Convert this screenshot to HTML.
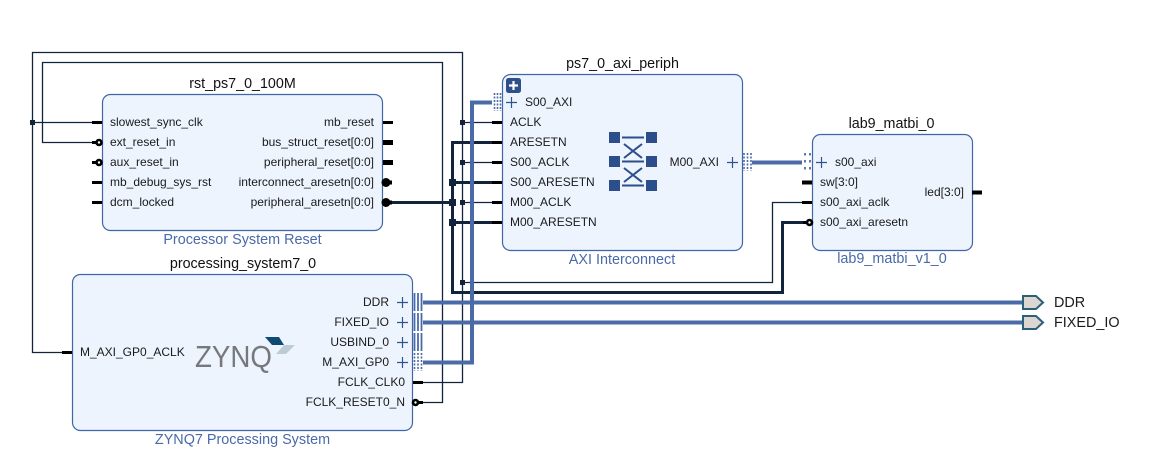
<!DOCTYPE html>
<html><head><meta charset="utf-8"><style>
html,body{margin:0;padding:0;background:#fff;width:1153px;height:467px;overflow:hidden}
svg{display:block}
text{font-family:"Liberation Sans",sans-serif;font-size:12px;fill:#1a1a1a}
.t{font-size:14.3px;text-anchor:middle;fill:#111}
.b{font-size:14.4px;text-anchor:middle;fill:#4a6aa8}
.e{text-anchor:end}
.box{fill:#edf4fe;stroke:#3f66a6;stroke-width:1.2}
.w{fill:none;stroke:#12243c;stroke-width:1.3}
.tw{fill:none;stroke:#12243c;stroke-width:3}
.a{fill:none;stroke:#4a6ba8;stroke-width:4}
.p{stroke:#000;stroke-width:3;fill:none}
.pl{stroke:#2f5590;stroke-width:1.2;fill:none}
.c{fill:#fff;stroke:#000;stroke-width:2.6}
.bar{stroke:#4a6ba8;stroke-width:1.8;fill:none}
.dots{stroke:#4a6ba8;stroke-width:1.6;fill:none;stroke-dasharray:2 1.500}
.s{fill:#2c4f8c}
</style></head><body>
<svg width="1153" height="467" viewBox="0 0 1153 467" xmlns="http://www.w3.org/2000/svg">
<rect width="1153" height="467" fill="#fff"/>
<!-- wires -->
<path class="w" d="M422 382.500H462.500V52.500H32.500V352.500H62"/>
<path class="w" d="M422 402.500H442.500V62.500H42.500V142.500H92"/>
<path class="w" d="M32 122.500H92"/>
<path class="w" d="M462 122.500H492M462 162.500H492M462 202.500H492"/>
<path class="w" d="M462 282.500H772.500V202.500H802"/>
<path class="tw" d="M392 202.500H452.500M452.500 182.500H492M452.500 222.500H492"/>
<path class="tw" d="M492 142.500H452.500V292.500H782.500V222.500H804"/>
<path class="a" d="M423 362.500H472V102.500H492"/>
<path class="a" d="M423 302.500H1022M423 322.500H1022"/>
<!-- junctions -->
<g fill="#12243c">
<rect x="30" y="120" width="5" height="5"/>
<rect x="460" y="120" width="5" height="5"/>
<rect x="460" y="160" width="5" height="5"/>
<rect x="460" y="200" width="5" height="5"/>
<rect x="460" y="280" width="5" height="5"/>
<rect x="449" y="179" width="7" height="7"/>
<rect x="449" y="199" width="7" height="7"/>
<rect x="449" y="219" width="7" height="7"/>
</g>
<!-- blocks -->
<rect class="box" x="102.500" y="94.500" width="280" height="136" rx="8"/>
<rect class="box" x="72.500" y="274.500" width="340" height="156" rx="8"/>
<rect class="box" x="502.500" y="74.500" width="240" height="176" rx="8"/>
<rect class="box" x="812.500" y="134.500" width="160" height="116" rx="8"/>
<!-- titles -->
<text class="t" x="242.500" y="88">rst_ps7_0_100M</text>
<text class="t" x="243" y="268">processing_system7_0</text>
<text class="t" x="622.500" y="68">ps7_0_axi_periph</text>
<text class="t" x="891.500" y="128">lab9_matbi_0</text>
<text class="b" x="242.500" y="244">Processor System Reset</text>
<text class="b" x="242.500" y="444">ZYNQ7 Processing System</text>
<text class="b" x="622" y="264">AXI Interconnect</text>
<text class="b" x="892" y="263">lab9_matbi_v1_0</text>
<!-- rst ports -->
<path class="p" d="M92 122.500H102M92 142.500H97M92 162.500H97M92 182.500H102M92 202.500H102"/>
<circle class="c" cx="99" cy="142.500" r="2.500"/><circle class="c" cx="99" cy="162.500" r="2.500"/>
<text x="110" y="126">slowest_sync_clk</text>
<text x="110" y="146">ext_reset_in</text>
<text x="110" y="166">aux_reset_in</text>
<text x="110" y="186">mb_debug_sys_rst</text>
<text x="110" y="206">dcm_locked</text>
<text class="e" x="374" y="126">mb_reset</text>
<text class="e" x="374" y="146">bus_struct_reset[0:0]</text>
<text class="e" x="374" y="166">peripheral_reset[0:0]</text>
<text class="e" x="374" y="186">interconnect_aresetn[0:0]</text>
<text class="e" x="374" y="206">peripheral_aresetn[0:0]</text>
<path class="p" d="M383 122.500H393"/>
<path class="p" style="stroke-width:5" d="M383 142.500H393M383 162.500H393"/>
<circle cx="386" cy="182.500" r="4.500" fill="#000"/><circle cx="386" cy="202.500" r="4.500" fill="#000"/>
<path style="stroke:#000;stroke-width:4" d="M388 182.500H392M388 202.500H392"/>
<!-- PS ports -->
<path class="p" d="M62 352.500H72"/>
<text x="80" y="356">M_AXI_GP0_ACLK</text>
<text class="e" x="389" y="306">DDR</text>
<text class="e" x="389" y="326">FIXED_IO</text>
<text class="e" x="389" y="346">USBIND_0</text>
<text class="e" x="389" y="366">M_AXI_GP0</text>
<text class="e" x="405" y="386">FCLK_CLK0</text>
<text class="e" x="405" y="406">FCLK_RESET0_N</text>
<path class="pl" d="M397 302.500H408M402.500 297V308M397 322.500H408M402.500 317V328M397 342.500H408M402.500 337V348M397 362.500H408M402.500 357V368"/>
<path class="bar" d="M414.500 293V311M418 293V311M421.500 293V311M414.500 313V331M418 313V331M421.500 313V331M414.500 333V351M418 333V351M421.500 333V351"/>
<path class="dots" d="M414.500 353V371M418 353V371M421.500 353V371"/>
<path class="p" d="M413 382.500H423"/>
<path class="p" d="M418 402.500H423"/>
<circle class="c" cx="415.500" cy="402.500" r="2.500"/>
<!-- ZYNQ logo -->
<text x="195" y="367" style="font-size:31px;fill:#77787b" textLength="77" lengthAdjust="spacingAndGlyphs">ZYNQ</text>
<polygon points="265,337 279,337 284,345 272,345" fill="#0f4a75"/>
<polygon points="284,345 295,345 286,354 276,354" fill="#bccbd6"/>
<!-- AXI interconnect -->
<rect x="506" y="78" width="15" height="15" rx="2.500" fill="#2f4f8a"/>
<path d="M509 85.500H518M513.500 81V90" stroke="#fff" stroke-width="2.200"/>
<path class="pl" d="M506 102.500H517M511.500 97V108"/>
<text x="525" y="106">S00_AXI</text>
<text x="510" y="126">ACLK</text>
<text x="510" y="146">ARESETN</text>
<text x="510" y="166">S00_ACLK</text>
<text x="510" y="186">S00_ARESETN</text>
<text x="510" y="206">M00_ACLK</text>
<text x="510" y="226">M00_ARESETN</text>
<path class="p" d="M492 122.500H502M492 142.500H502M492 162.500H502M492 182.500H502M492 202.500H502M492 222.500H502"/>
<path class="dots" d="M494.500 93V111M497.500 93V111M500.500 93V111"/>
<text class="e" x="719" y="166">M00_AXI</text>
<path class="pl" d="M727 162.500H738M732.500 157V168"/>
<path class="dots" d="M744 153V171M747.500 153V171M751 153V171"/>
<path class="a" d="M752 162.500H802"/>
<!-- crossbar icon -->
<g class="s">
<rect x="609" y="132" width="11" height="11"/><rect x="646" y="132" width="11" height="11"/>
<rect x="609" y="156" width="11" height="11"/><rect x="646" y="156" width="11" height="11"/>
<rect x="609" y="180" width="11" height="11"/><rect x="646" y="180" width="11" height="11"/>
</g>
<path d="M622 137.500H644M622 161.500H644M622 185.500H644" stroke="#2c4f8c" stroke-width="2" fill="none"/>
<path d="M624 144L642 158M642 144L624 158M624 168L642 182M642 168L624 182" stroke="#2c4f8c" stroke-width="2" fill="none"/>
<!-- lab9 -->
<path class="pl" d="M816 162.500H827M821.500 157V168"/>
<text x="835" y="166">s00_axi</text>
<text x="820" y="186">sw[3:0]</text>
<text x="820" y="206">s00_axi_aclk</text>
<text x="820" y="226">s00_axi_aresetn</text>
<text class="e" x="964" y="196">led[3:0]</text>
<path d="M805 153V171M810 153V171" stroke="#4a6ba8" stroke-width="1.800" stroke-dasharray="2.500 4.500" fill="none"/>
<path class="p" style="stroke-width:4" d="M802 182.500H812"/>
<path class="p" d="M802 202.500H812"/>
<path class="p" d="M803 222.500H808"/>
<circle class="c" cx="809.500" cy="222.500" r="2.500"/>
<path class="p" style="stroke-width:4" d="M972 192.500H982"/>
<!-- external ports -->
<polygon points="1023,296 1036,296 1043,302.500 1036,309 1023,309" fill="#dcd6d2" stroke="#2b6077" stroke-width="2"/>
<polygon points="1023,316 1036,316 1043,322.500 1036,329 1023,329" fill="#dcd6d2" stroke="#2b6077" stroke-width="2"/>
<text x="1054" y="307" style="font-size:14.4px">DDR</text>
<text x="1054" y="327" style="font-size:14.4px">FIXED_IO</text>
</svg>
</body></html>
